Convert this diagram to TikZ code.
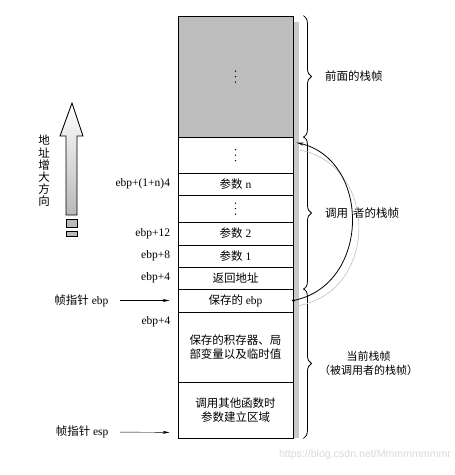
\documentclass[tikz,border=0pt]{standalone}
\usepackage{fontspec}
\setmainfont{Liberation Serif}
\newfontfamily\cjk{Noto Sans CJK SC}
\newfontfamily\wmfont{Liberation Sans}
\usetikzlibrary{positioning, arrows.meta, decorations.pathreplacing}

\newcommand{\zh}[1]{{\cjk #1}}
\definecolor{framegray}{HTML}{BDBDBD}
\definecolor{shadowgray}{HTML}{C8C8C8}

\begin{document}
\begin{tikzpicture}[x=1pt, y=-1pt, >=Stealth,
    font=\fontsize{11.5}{13}\selectfont,
    cell/.style={draw, line width=0.9pt, minimum width=115pt, inner sep=0pt, fill=white},
    brace/.style={decorate, decoration={brace, amplitude=8pt}, line width=0.8pt},
    ptr/.style={-{Stealth[length=7pt,width=3pt]}, shorten <=8pt, shorten >=8pt},
    offset/.style={anchor=east}]

  \useasboundingbox (0,0) rectangle (455,475);

  % shadow of the stack
  \fill[shadowgray] (293,22) rectangle (299,438);

  \node[cell, fill=framegray, minimum height=121pt] (prev)   at (235.5,76.5) {};
  \node[cell, minimum height=36pt] (dotsA)  at (235.5,155)   {};
  \node[cell, minimum height=22pt] (argn)   at (235.5,184)   {\zh{参数} n};
  \node[cell, minimum height=27pt] (dotsB)  at (235.5,208.5) {};
  \node[cell, minimum height=23pt] (argtwo) at (235.5,233.5) {\zh{参数} 2};
  \node[cell, minimum height=22pt] (argone) at (235.5,256)   {\zh{参数} 1};
  \node[cell, minimum height=22pt] (ret)    at (235.5,278)   {\zh{返回地址}};
  \node[cell, minimum height=23pt] (saved)  at (235.5,300.5) {\zh{保存的} ebp};
  \node[cell, minimum height=70pt, align=center] (locals) at (235.5,347)
    {\zh{保存的积存器、局}\\[1pt]\zh{部变量以及临时值}};
  \node[cell, minimum height=56pt, align=center] (outargs) at (235.5,410)
    {\zh{调用其他函数时}\\[1pt]\zh{参数建立区域}};

  % elided slots
  \foreach \c in {prev, dotsA, dotsB}
    \foreach \d in {-5.5pt, 0pt, 5.5pt}
      \fill ([yshift=\d]\c.center) circle (0.75pt);

  % offsets from ebp
  \node[offset, left=4pt of argn.west]   (offn)   {ebp+(1+n)4};
  \node[offset, left=4pt of argtwo.west] (offtwe) {ebp+12};
  \node[offset, left=4pt of argone.west] (offeig) {ebp+8};
  \node[offset, left=4pt of ret.west]    (offfou) {ebp+4};
  \node[offset] (offloc) at (174,322) {ebp+4};

  % frame pointers
  \coordinate (esp) at ([yshift=6pt]outargs.south west);
  \node[anchor=east] (fpebp) at (112,300.5) {\zh{帧指针} ebp};
  \node[anchor=east] (fpesp) at (112,432) {\zh{帧指针} esp};
  \draw[ptr] (fpebp.east) -- (saved.west);
  \draw[ptr] (fpesp.east) -- (esp);

  % braces
  \draw[brace] ([xshift=10pt]prev.north east) -- node[right=18pt] (lprev) {\zh{前面的栈帧}}
    ([xshift=10pt]prev.south east);
  \draw[brace] ([xshift=10pt]dotsA.north east) -- node[right=18pt] (lcaller)
    {\zh{调用}\hspace{5pt}\zh{者的栈帧}} ([xshift=10pt]ret.south east);
  \draw[brace] ([xshift=10pt]saved.north east) -- node[right=12pt, align=center,
    font=\fontsize{11}{14}\selectfont] (lcur)
    {\zh{当前栈帧}\\\zh{（被调用者的栈帧）}} ([xshift=10pt]outargs.south east);

  % saved ebp points back to the caller frame
  \coordinate (callertop) at ([xshift=3pt, yshift=-6pt]dotsA.north east);
  \draw[gray!45, line width=0.7pt] (297,306) .. controls (379,292) and (379,166) .. (300,150);
  \fill (saved.east) circle (1.6pt);
  \draw[-{Stealth[length=7pt,width=3pt]}, line width=0.8pt]
    (saved.east) .. controls (371,285) and (371,160) .. (callertop);

  % direction of growing addresses
  \shade[top color=white, bottom color=gray!55, draw=black, line width=0.9pt]
    (72,103) -- (83,136) -- (77,136) -- (77,215) -- (66,215) -- (66,136) -- (60,136) -- cycle;
  \draw[fill=gray!55, line width=0.9pt] (66,219) rectangle (77,227);
  \draw[fill=gray!55, line width=0.9pt] (66,231) rectangle (77,236);
  \node[align=center, font=\fontsize{11.5}{12.2}\selectfont] (grow) at (44,171)
    {\zh{地}\\\zh{址}\\\zh{增}\\\zh{大}\\\zh{方}\\\zh{向}};

  \node[text=gray!30, font=\wmfont\fontsize{10.6}{13}\selectfont] (mark) at (365,455)
    {https://blog.csdn.net/Mmmmmmmmr};

\end{tikzpicture}
\end{document}
